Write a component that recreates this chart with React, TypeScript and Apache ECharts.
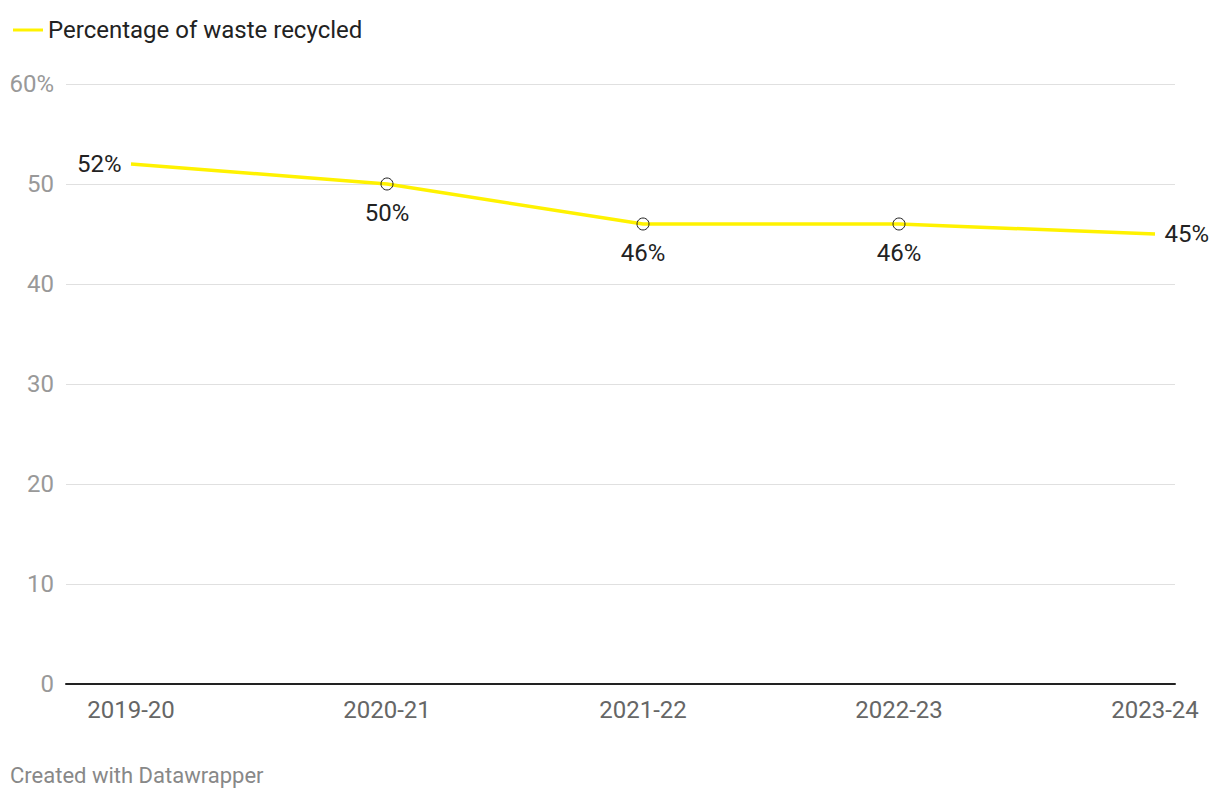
import React, { useEffect, useRef } from "react";
import * as echarts from "echarts";

const categories = ["2019-20", "2020-21", "2021-22", "2022-23", "2023-24"];
const recycled = [52, 50, 46, 46, 45];
const yTicks = [0, 10, 20, 30, 40, 50, 60];
const seriesName = "Percentage of waste recycled";

const YELLOW = "#fff200";
const FONT = "Roboto, 'Noto Sans', sans-serif";

export default function App() {
  const ref = useRef<HTMLDivElement>(null);
  useEffect(() => {
    if (!ref.current) return;
    const chart = echarts.init(ref.current, undefined, { renderer: "svg" });
    const last = recycled.length - 1;
    const data = recycled.map((v, i) => {
      const edge = i === 0 || i === last;
      return {
        value: v,
        symbol: "circle",
        symbolSize: edge ? 1 : 12,
        itemStyle: edge
          ? { color: "rgba(255,255,255,0)", borderColor: "rgba(0,0,0,0)", borderWidth: 0 }
          : { color: "rgba(255,255,255,0)", borderColor: "#222", borderWidth: 1 },
        label: {
          show: true,
          position: i === 0 ? "left" : i === last ? "right" : "bottom",
          distance: edge ? 9 : 10,
          formatter: "{c}%",
          color: "#222",
          fontSize: 24,
          fontFamily: FONT,
        },
      };
    });
    chart.setOption({
      animation: false,
      textStyle: { fontFamily: FONT },
      legend: {
        left: 8,
        top: 13,
        icon: "rect",
        itemWidth: 30,
        itemHeight: 3,
        itemGap: 8,
        textStyle: { fontSize: 24, color: "#222", fontFamily: FONT },
        data: [{ name: seriesName, itemStyle: { color: YELLOW } }],
      },
      graphic: [
        {
          type: "text",
          left: 10,
          top: 764,
          style: { text: "Created with Datawrapper", fill: "#888", fontSize: 22, fontFamily: FONT },
        },
      ],
      grid: [
        { left: 66, right: 45, top: 84, bottom: 116 },
        { left: 131, right: 65, top: 84, bottom: 116 },
      ],
      xAxis: [
        {
          gridIndex: 0,
          type: "value",
          min: 0,
          max: 1,
          axisLine: { show: true, lineStyle: { color: "#222", width: 2 } },
          axisTick: { show: false },
          axisLabel: { show: false },
          splitLine: { show: false },
        },
        {
          gridIndex: 1,
          type: "category",
          boundaryGap: false,
          data: categories,
          axisLine: { show: false },
          axisTick: { show: false },
          axisLabel: { color: "#666", fontSize: 24, margin: 14, fontFamily: FONT },
          splitLine: { show: false },
        },
      ],
      yAxis: [
        {
          gridIndex: 0,
          type: "value",
          min: yTicks[0],
          max: yTicks[yTicks.length - 1],
          interval: 10,
          axisLine: { show: false },
          axisTick: { show: false },
          axisLabel: {
            color: "#999",
            fontSize: 24,
            margin: 12,
            fontFamily: FONT,
            formatter: (v: number) => (v === 60 ? "60%" : String(v)),
          },
          splitLine: { show: true, lineStyle: { color: "#e0e0e0", width: 1 } },
        },
        {
          gridIndex: 1,
          type: "value",
          min: yTicks[0],
          max: yTicks[yTicks.length - 1],
          interval: 10,
          show: false,
        },
      ],
      series: [
        {
          name: seriesName,
          type: "line",
          xAxisIndex: 1,
          yAxisIndex: 1,
          data,
          lineStyle: { color: YELLOW, width: 3.5 },
          itemStyle: { color: YELLOW },
          z: 3,
        },
      ],
    });
    return () => chart.dispose();
  }, []);
  return (
    <div
      ref={ref}
      style={{ position: "fixed", left: 0, top: 0, width: 1220, height: 800, background: "#fff" }}
    />
  );
}
